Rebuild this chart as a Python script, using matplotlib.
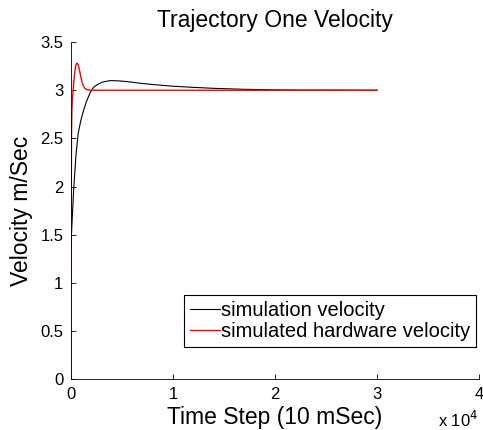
import matplotlib
matplotlib.use("Agg")
import matplotlib.pyplot as plt

plt.rcParams["font.family"] = ["Liberation Sans", "DejaVu Sans"]

# simulation velocity (black)
sim_t = [0, 100, 250, 490, 700, 950, 1200, 1500, 1860, 2200, 2600, 3100, 3800, 4600,
         5500, 7000, 8500, 10000, 12000, 14000, 17000, 20000, 22000, 26000, 30000]
sim_v = [1.40, 1.62, 1.95, 2.33, 2.55, 2.68, 2.78, 2.88, 2.97, 3.03, 3.06, 3.085, 3.10, 3.098,
         3.09, 3.07, 3.055, 3.042, 3.03, 3.02, 3.01, 3.004, 3.002, 3.001, 3.0]

# simulated hardware velocity (red)
hw_t = [0, 20, 50, 90, 150, 250, 350, 450, 550, 620, 720, 850, 1000, 1150, 1350, 1600,
        1850, 2200, 5000, 10000, 20000, 30000]
hw_v = [0.0, 1.8, 2.55, 2.8, 2.92, 3.05, 3.17, 3.25, 3.28, 3.28, 3.26, 3.2, 3.12, 3.06,
        3.02, 3.005, 3.0, 3.0, 3.0, 3.0, 3.0, 3.0]

x_ticks = [0, 10000, 20000, 30000, 40000]
x_tick_labels = ["0", "1", "2", "3", "4"]
y_ticks = [0, 0.5, 1, 1.5, 2, 2.5, 3, 3.5]
y_tick_labels = ["0", "0.5", "1", "1.5", "2", "2.5", "3", "3.5"]

fig = plt.figure(figsize=(4.83, 4.30), dpi=100)
ax = fig.add_axes([0.147, 0.1186, 0.845, 0.7834])

ax.plot(sim_t, sim_v, color="black", lw=0.8, label="simulation velocity")
ax.plot(hw_t, hw_v, color="red", lw=1.0, label="simulated hardware velocity")

ax.set_xlim(0, 40000)
ax.set_ylim(0, 3.5)
ax.set_xticks(x_ticks)
ax.set_xticklabels(x_tick_labels)
ax.set_yticks(y_ticks)
ax.set_yticklabels(y_tick_labels)
ax.tick_params(direction="in", length=3.5, width=0.6, labelsize=12, pad=5.5)

for side in ["top", "right"]:
    ax.spines[side].set_visible(False)
for side in ["left", "bottom"]:
    ax.spines[side].set_linewidth(0.6)

ax.set_title("Trajectory One Velocity", fontsize=16.5, pad=11)
ax.set_xlabel("Time Step (10 mSec)", fontsize=16.5, labelpad=3)
ax.set_ylabel("Velocity m/Sec", fontsize=16.5, labelpad=5)
fig.text(0.99, 0.007, r"x 10$^4$", fontsize=12, ha="right", va="baseline")

leg = ax.legend(loc="lower right", bbox_to_anchor=(0.993, 0.095), fontsize=14.5,
                frameon=True, fancybox=False, edgecolor="black", framealpha=1,
                handlelength=1.5, handletextpad=0.05, borderpad=0.3, labelspacing=0.1,
                borderaxespad=0)
leg.get_frame().set_linewidth(0.8)

fig.savefig("out.png", dpi=100)
